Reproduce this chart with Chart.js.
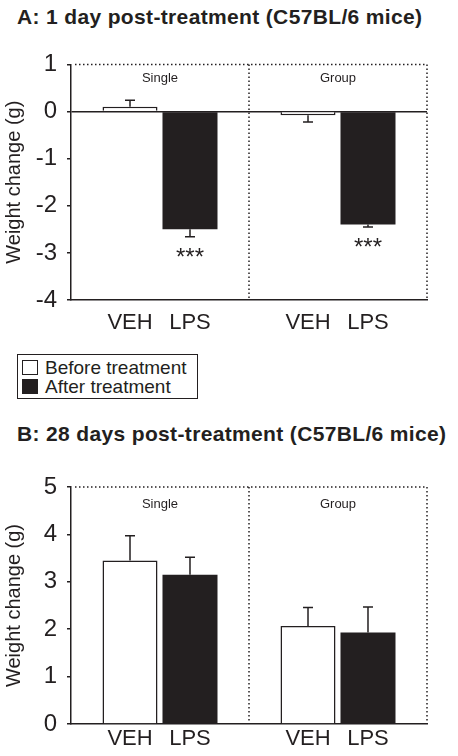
<!DOCTYPE html>
<html lang="en">
<head>
<meta charset="UTF-8">
<script src="https://cdn.jsdelivr.net/npm/chart.js@4.4.0/dist/chart.umd.min.js"></script>
<title>Weight change</title>
<style>
  body { margin: 0; background: #fff; font-family: 'Liberation Sans', Arial, sans-serif; color: #231f20; }
  #page { position: relative; width: 458px; height: 756px; overflow: hidden; }
  .title { position: absolute; left: 17px; font-weight: bold; font-size: 21px; letter-spacing: 0.35px; line-height: 22px; white-space: nowrap; }
  canvas { position: absolute; left: 0; }
  #legend { position: absolute; left: 17px; top: 354px; width: 179px; height: 43px; border: 1.5px solid #231f20; padding: 0; }
  .item { position: absolute; left: 4px; font-size: 19px; line-height: 18px; white-space: nowrap; }
  .swatch { display: inline-block; width: 14px; height: 13px; border: 1.5px solid #231f20; vertical-align: -1px; margin-right: 7px; }
</style>
</head>
<body>
<div id="page">
  <div class="title" style="top:6px">A: 1 day post-treatment (C57BL/6 mice)</div>
  <canvas id="chartA" width="458" height="300" style="top:40px"></canvas>
  <div id="legend"></div>
  <div class="title" style="top:423px">B: 28 days post-treatment (C57BL/6 mice)</div>
  <canvas id="chartB" width="458" height="296" style="top:460px"></canvas>
</div>
<script>
  const ink = '#231f20';
  const groups = ['Single', 'Group'];
  const treatments = ['VEH', 'LPS'];
  const seriesNames = ['Before treatment', 'After treatment'];
  const seriesColors = ['#ffffff', ink];

  // A: 1 day post-treatment
  const day1Veh = [0.1, -0.08];
  const day1Lps = [-2.5, -2.4];
  const day1VehErr = [0.14, 0.14];
  const day1LpsErr = [0.16, 0.05];
  const day1Stars = ['***', '***'];

  // B: 28 days post-treatment
  const day28Veh = [3.45, 2.07];
  const day28Lps = [3.15, 1.93];
  const day28VehErr = [0.52, 0.39];
  const day28LpsErr = [0.37, 0.54];

  const yTicksA = [-4, -3, -2, -1, 0, 1];
  const yTicksB = [0, 1, 2, 3, 4, 5];

  // legend
  const legend = document.getElementById('legend');
  seriesNames.forEach((name, i) => {
    const el = document.createElement('div');
    el.className = 'item';
    el.style.top = (4 + i * 19) + 'px';
    el.innerHTML = '<span class="swatch" style="background:' + seriesColors[i] + '"></span>' + name;
    legend.appendChild(el);
  });

  const annotate = {
    id: 'annotate',
    beforeDatasetsDraw(chart) {
      const { ctx, chartArea: a, scales: { x } } = chart;
      const mid = x.getPixelForValue(0.5);
      ctx.save();
      ctx.strokeStyle = ink;
      ctx.lineWidth = 1.5;
      ctx.setLineDash([1.5, 2.5]);
      ctx.beginPath();
      ctx.moveTo(a.left + 4, a.top);
      ctx.lineTo(a.right, a.top);
      ctx.lineTo(a.right, a.bottom);
      ctx.moveTo(mid, a.top);
      ctx.lineTo(mid, a.bottom);
      ctx.stroke();
      ctx.restore();
    },
    afterDatasetsDraw(chart, args, opts) {
      const { ctx, chartArea: a, scales: { x, y } } = chart;
      ctx.save();
      ctx.fillStyle = ink;
      ctx.strokeStyle = ink;
      ctx.lineWidth = 1.5;
      ctx.textAlign = 'center';

      ctx.font = '13px "Liberation Sans", Arial, sans-serif';
      ctx.textBaseline = 'middle';
      groups.forEach((g, j) => ctx.fillText(g, x.getPixelForValue(j), a.top + opts.groupGap));

      ctx.textBaseline = 'alphabetic';
      chart.data.datasets.forEach((ds, i) => {
        chart.getDatasetMeta(i).data.forEach((bar, j) => {
          const v = ds.data[j];
          const dir = v >= 0 ? 1 : -1;
          const y0 = y.getPixelForValue(v);
          const y1 = y.getPixelForValue(v + dir * opts.errors[i][j]);
          ctx.beginPath();
          ctx.moveTo(bar.x, y0);
          ctx.lineTo(bar.x, y1);
          ctx.moveTo(bar.x - 5, y1);
          ctx.lineTo(bar.x + 5, y1);
          ctx.stroke();
          const s = opts.stars[i] && opts.stars[i][j];
          if (s) {
            ctx.font = '24px "Liberation Sans", Arial, sans-serif';
            ctx.fillText(s, bar.x, y1 + 28);
          }
          ctx.font = '22px "Liberation Sans", Arial, sans-serif';
          ctx.fillText(treatments[i], bar.x, a.bottom + opts.labelGap);
        });
      });
      ctx.restore();
    }
  };

  function makeChart(id, veh, lps, errs, stars, ticks, padTop, xHeight, labelGap, groupGap) {
    return new Chart(document.getElementById(id), {
      type: 'bar',
      data: {
        labels: groups,
        datasets: [
          { label: seriesNames[0], data: veh, backgroundColor: seriesColors[0], borderColor: ink, borderWidth: 1.5 },
          { label: seriesNames[1], data: lps, backgroundColor: seriesColors[1], borderColor: ink, borderWidth: 0 }
        ]
      },
      options: {
        responsive: false,
        animation: false,
        events: [],
        categoryPercentage: 0.674,
        barPercentage: 0.917,
        layout: { padding: { top: padTop, right: 31, left: 0, bottom: 0 } },
        plugins: {
          legend: { display: false },
          tooltip: { enabled: false },
          annotate: { errors: errs, stars: stars, labelGap: labelGap, groupGap: groupGap }
        },
        scales: {
          x: {
            grid: { display: false },
            border: { color: ink, width: 1.5 },
            ticks: { display: false },
            afterFit(scale) { scale.height = xHeight; }
          },
          y: {
            min: ticks[0],
            max: ticks[ticks.length - 1],
            afterBuildTicks(scale) { scale.ticks = ticks.map(v => ({ value: v })); },
            grid: {
              color: c => (c.tick && c.tick.value === 0 && ticks[0] < 0) ? ink : 'transparent',
              lineWidth: 1.5,
              tickColor: ink,
              tickWidth: 1.5,
              tickLength: 4
            },
            border: { color: ink, width: 1.5 },
            ticks: { color: ink, padding: 10, font: { family: '"Liberation Sans", Arial, sans-serif', size: 24 } },
            title: {
              display: true,
              text: 'Weight change (g)',
              color: ink,
              padding: { top: 2, bottom: 0 },
              font: { family: '"Liberation Sans", Arial, sans-serif', size: 20 }
            },
            afterFit(scale) { scale.width = 71; }
          }
        }
      },
      plugins: [annotate]
    });
  }

  makeChart('chartA', day1Veh, day1Lps, [day1VehErr, day1LpsErr], [null, day1Stars], yTicksA, 23, 40, 29, 14);
  makeChart('chartB', day28Veh, day28Lps, [day28VehErr, day28LpsErr], [null, null], yTicksB, 27, 32, 21, 17);
</script>
</body>
</html>
